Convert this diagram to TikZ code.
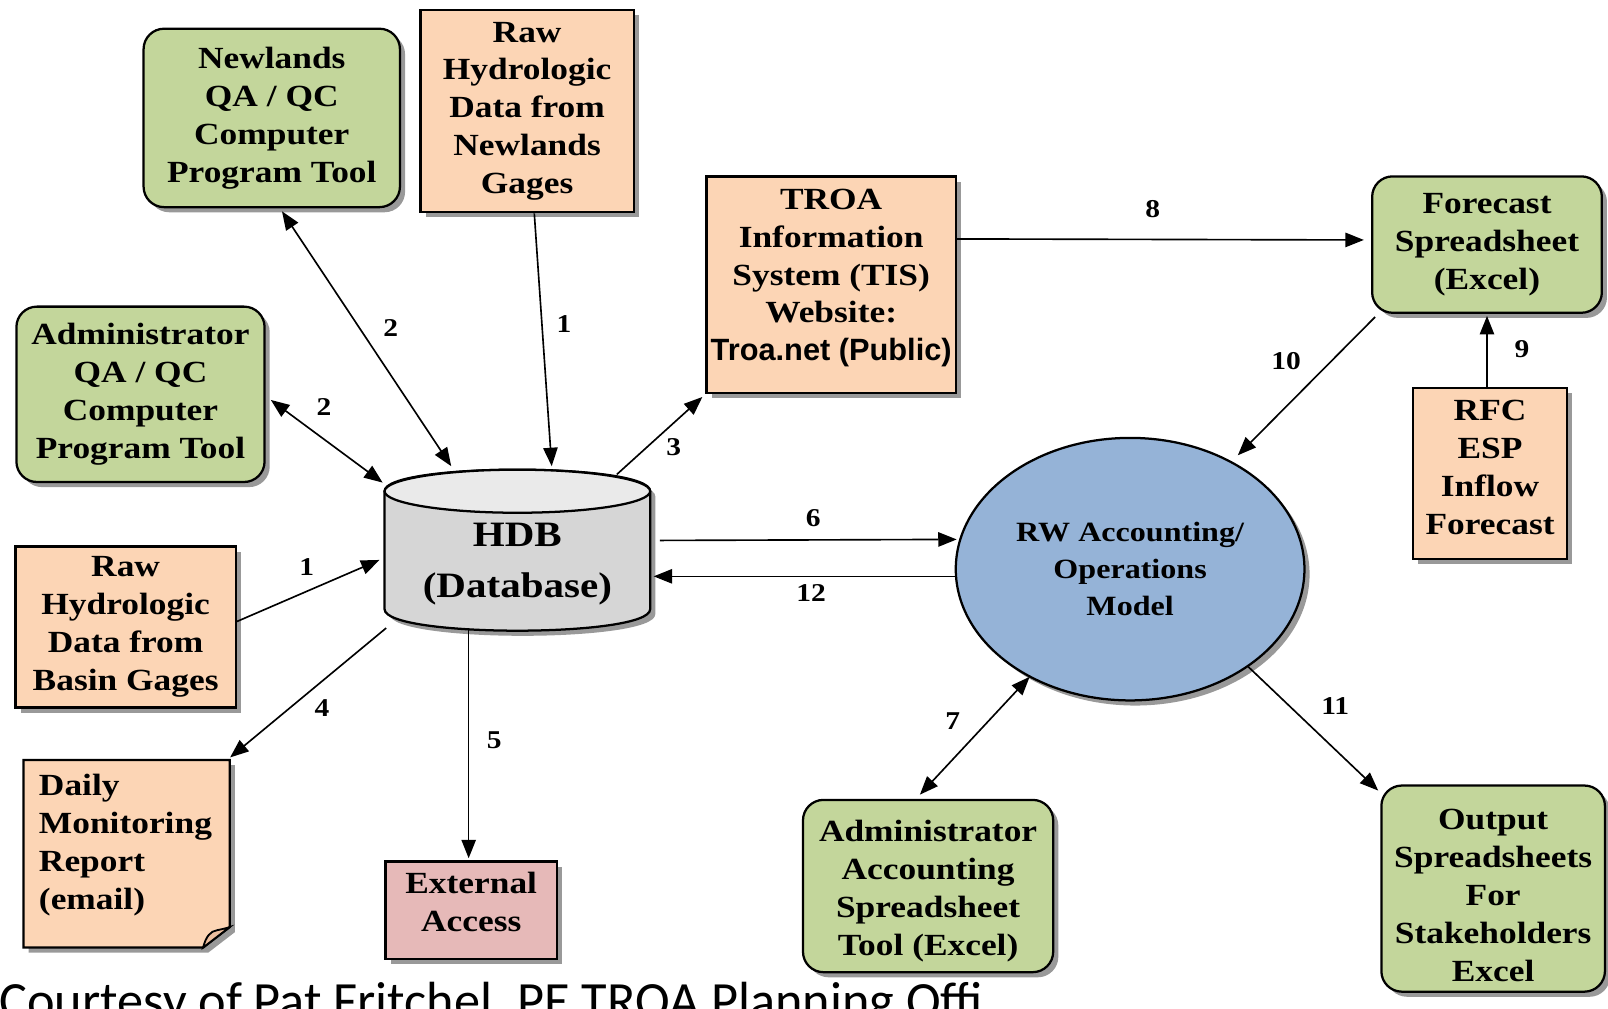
\documentclass[tikz,border=0pt]{standalone}
\usepackage{fontspec}
\newfontfamily\dfont{Liberation Serif}[FakeStretch=1.15]
\newfontfamily\dsans{Liberation Sans}
\newfontfamily\capfont{Carlito}
\usetikzlibrary{arrows.meta,shadows,shapes.geometric}
\definecolor{boxgreen}{RGB}{195,214,155}
\definecolor{peach}{RGB}{252,213,181}
\definecolor{peachdark}{RGB}{236,190,158}
\definecolor{rwblue}{RGB}{149,179,215}
\definecolor{pinkbox}{RGB}{230,185,184}
\definecolor{cylbody}{RGB}{214,214,214}
\definecolor{cyltop}{RGB}{234,234,234}
\tikzset{
  base/.style={draw=black, line width=1.1pt, align=center,
    font=\dfont\bfseries\fontsize{15}{18.5}\selectfont, inner sep=2pt,
    drop shadow={shadow xshift=2.5pt, shadow yshift=-2.5pt, fill=black, opacity=.4}},
  greenbox/.style={base, fill=boxgreen, rounded corners=10pt},
  peachbox/.style={base, fill=peach},
  conn/.style={line width=0.8pt, -{Triangle[length=9pt,width=7pt]}},
  bconn/.style={line width=0.8pt, {Triangle[length=9pt,width=7pt]}-{Triangle[length=9pt,width=7pt]}},
  num/.style={font=\dfont\bfseries\fontsize{12.5}{14}\selectfont, inner sep=0pt},
  shadowfill/.style={fill=black, opacity=.4}
}
\begin{document}
\begin{tikzpicture}[x=0.5pt,y=-0.5pt]
\useasboundingbox (0,0) rectangle (1568,983);
\fill[white] (0,0) rectangle (1568,983);
\clip (0,0) rectangle (1568,983);

% ---- boxes ----
\node[greenbox, minimum width=125pt, minimum height=87pt] (newl) at (265,115)
  {Newlands\\QA / QC\\Computer\\Program Tool};
\node[peachbox, minimum width=104pt, minimum height=98.5pt] (rawn) at (514,108.5)
  {Raw\\Hydrologic\\Data from\\Newlands\\Gages};
\node[peachbox, minimum width=121.5pt, minimum height=105.5pt, inner sep=1pt] (troa) at (810.5,277.5)
  {TROA\\Information\\System (TIS)\\Website:\\{\dsans\bfseries Troa.net (Public)}\\[-9pt]\mbox{}};
\node[greenbox, minimum width=112pt, minimum height=66.5pt] (fore) at (1450,238.5)
  {Forecast\\Spreadsheet\\(Excel)};
\node[greenbox, minimum width=121pt, minimum height=85.5pt] (admq) at (137,384.5)
  {Administrator\\QA / QC\\Computer\\Program Tool};
\node[peachbox, minimum width=75pt, minimum height=83.5pt] (rfc) at (1453,461.5)
  {RFC\\ESP\\Inflow\\Forecast\\[-13pt]\mbox{}};
\node[peachbox, minimum width=107.5pt, minimum height=78.5pt] (basin) at (122.5,611.5)
  {Raw\\Hydrologic\\Data from\\Basin Gages};
\node[base, fill=pinkbox, minimum width=83.5pt, minimum height=47.5pt] (ext) at (459.5,887.5)
  {External\\Access\\[-10.5pt]\mbox{}};
\node[greenbox, minimum width=122pt, minimum height=84pt] (acct) at (905,864)
  {\mbox{}\\[-3pt]Administrator\\Accounting\\Spreadsheet\\Tool (Excel)};
\node[greenbox, minimum width=109pt, minimum height=100.5pt] (outp) at (1456,866.5)
  {\mbox{}\\[-2pt]Output\\Spreadsheets\\For\\Stakeholders\\Excel};

% ---- daily monitoring note ----
\fill[shadowfill] (28,746) -- (229,746) -- (229,909) -- (203,929) -- (28,929) -- cycle;
\draw[line width=1.1pt, fill=peach] (23,741) -- (224,741) -- (224,904) -- (198,924) -- (23,924) -- cycle;
\draw[line width=0.9pt, fill=peachdark] (198,924) .. controls (201,913) and (205,908) .. (212,907)
  .. controls (217,906) and (221,905) .. (224,904) -- cycle;
\node[draw=none, align=left, text width=85.5pt, inner xsep=7.5pt, inner ysep=0pt,
  minimum width=100.5pt, minimum height=91.5pt,
  font=\dfont\bfseries\fontsize{15}{18.5}\selectfont] (daily) at (123.5,832.5)
  {Daily\\Monitoring\\Report\\(email)\\[-6.5pt]\mbox{}};

% ---- HDB cylinder ----
\fill[shadowfill] (380,484) -- (380,599) .. controls (380,627) and (639,627) .. (639,599)
  -- (639,484) .. controls (639,456) and (380,456) .. (380,484) -- cycle;
\draw[line width=1.1pt, fill=cylbody] (375,479) -- (375,594) .. controls (375,622) and (634,622) .. (634,594)
  -- (634,479) .. controls (634,451) and (375,451) .. (375,479) -- cycle;
\draw[line width=1.1pt, fill=cyltop] (504.5,479) ellipse [x radius=129.5, y radius=21];
\node[minimum width=129.5pt, minimum height=78.5pt, align=center, inner sep=0pt,
  font=\dfont\bfseries\fontsize{17.4}{23.5}\selectfont] (hdb) at (504.5,536.5)
  {\raisebox{-10.3pt}[0pt][0pt]{\begin{tabular}{@{}c@{}}HDB\\[1pt](Database)\end{tabular}}};

% ---- RW ellipse ----
\node[ellipse, draw=black, line width=1.1pt, fill=rwblue, minimum width=170pt, minimum height=128pt,
  align=center, inner sep=0pt, font=\dfont\bfseries\fontsize{13.6}{18}\selectfont,
  drop shadow={shadow xshift=2.5pt, shadow yshift=-2.5pt, fill=black, opacity=.4}] (rw) at (1102,555)
  {RW Accounting/\\Operations\\Model};

% ---- connectors ----
\draw[bconn] ([xshift=5pt,yshift=-1.5pt]newl.south) -- ([xshift=-32.25pt,yshift=1.5pt]hdb.north);
\draw[conn] ([xshift=3.5pt]rawn.south) -- ([xshift=16.75pt,yshift=1.5pt]hdb.north);
\draw[bconn] ([xshift=2.5pt,yshift=-2.75pt]admq.east) -- ([xshift=-0.75pt,yshift=-6.5pt]hdb.north west);
\draw[conn] ([yshift=2.75pt]basin.east) -- ([xshift=-2.25pt,yshift=-4.75pt]hdb.west);
\draw[conn] ([xshift=48.5pt,yshift=-2.5pt]hdb.north) -- ([xshift=-1.5pt,yshift=-1.5pt]troa.south west);
\draw[conn] ([xshift=1pt,yshift=1.5pt]hdb.south west) -- ([yshift=1pt]daily.north east);
\draw[conn] ([xshift=-23.75pt,yshift=0.5pt]hdb.south) -- ([xshift=-1.25pt,yshift=1pt]ext.north);
\draw[conn] ([xshift=4.5pt,yshift=4.75pt]hdb.east) -- ([xshift=1pt,yshift=14.5pt]rw.west);
\draw[conn] ([yshift=-3.5pt]rw.west) -- ([xshift=1.5pt,yshift=-12.75pt]hdb.east);
\draw[conn] ([yshift=22.25pt]troa.east) -- ([xshift=-3.5pt,yshift=2.25pt]fore.west);
\draw[conn] ([xshift=2pt,yshift=-1.5pt]fore.south west) -- ([xshift=52.5pt,yshift=55.5pt]rw.center);
\draw[conn] ([xshift=-1.5pt]rfc.north) -- ([yshift=-1pt]fore.south);
\draw[bconn] ([xshift=-4pt,yshift=2pt]acct.north) -- ([xshift=-49pt,yshift=-52.5pt]rw.center);
\draw[conn] ([xshift=57.5pt,yshift=-47.5pt]rw.center) -- ([xshift=-1pt,yshift=-3pt]outp.north west);

% ---- labels ----
\node[num] (n2a) at (381,320) {2};
\node[num] (n1a) at (550,316) {1};
\node[num] (n2b) at (316,397) {2};
\node[num] (n1b) at (299,553) {1};
\node[num] (n3) at (657,436) {3};
\node[num] (n4) at (314,690) {4};
\node[num] (n5) at (482,722) {5};
\node[num] (n6) at (793,505) {6};
\node[num] (n12) at (791,578) {12};
\node[num] (n8) at (1124,204) {8};
\node[num] (n10) at (1254,352) {10};
\node[num] (n9) at (1484,340) {9};
\node[num] (n7) at (929,703) {7};
\node[num] (n11) at (1302,688) {11};

% ---- caption ----
\node[anchor=base west, inner sep=0pt, font=\capfont\fontsize{25.5}{30}\selectfont] (cap) at (-1,993)
  {Courtesy of Pat Fritchel, PE TROA Planning Offi};
\end{tikzpicture}
\end{document}
